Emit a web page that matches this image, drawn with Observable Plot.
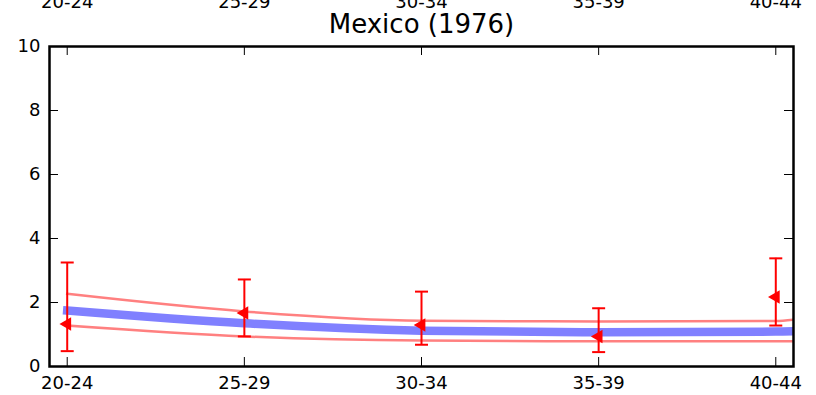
<!DOCTYPE html>
<html>
<head>
<meta charset="utf-8">
<script src="https://cdn.jsdelivr.net/npm/d3@7"></script>
<script src="https://cdn.jsdelivr.net/npm/@observablehq/plot@0.6"></script>
<style>
  html, body { margin: 0; padding: 0; background: #fff; }
</style>
</head>
<body>
<div id="chart"></div>
<script>
// ---- data ----
const title = "Mexico (1976)";
const categories = ["20-24", "25-29", "30-34", "35-39", "40-44"];
const catIndex = [0, 1, 2, 3, 4];
const yTicks = [0, 2, 4, 6, 8, 10];

// fitted curves: one value per age group, plus the value at the right edge of the axes (x = 4.1)
const lineX = [0, 1, 2, 3, 4, 4.1];
const fitMean  = [1.75, 1.35, 1.12, 1.07, 1.09, 1.10];
const fitUpper = [2.27, 1.72, 1.43, 1.41, 1.42, 1.46];
const fitLower = [1.28, 0.94, 0.81, 0.79, 0.79, 0.79];

// observed values with error bars
const observed = [1.33, 1.67, 1.30, 0.94, 2.17];
const obsLow   = [0.48, 0.94, 0.68, 0.45, 1.28];
const obsHigh  = [3.25, 2.72, 2.34, 1.82, 3.38];

// ---- build tables ----
const mk = (vals) => lineX.map((x, i) => ({x, y: vals[i]}));
const meanData = mk(fitMean), upperData = mk(fitUpper), lowerData = mk(fitLower);
const obsData = catIndex.map(i => ({x: i, y: observed[i], lo: obsLow[i], hi: obsHigh[i]}));

const capSymbol = {
  draw(context, size) {
    const w = Math.sqrt(size / Math.PI);
    context.moveTo(-w, 0);
    context.lineTo(w, 0);
  }
};

const W = 816, H = 395;
const mL = 49, mR = 23, mT = 46, mB = 29;
const plotW = W - mL - mR, plotH = H - mT - mB;
const tickLen = 9;
const curve = "monotone-x";
const tickFont = 18;

const chart = Plot.plot({
  width: W,
  height: H,
  marginLeft: mL,
  marginRight: mR,
  marginTop: mT,
  marginBottom: mB,
  style: {fontFamily: "'DejaVu Sans', sans-serif", fontSize: tickFont + "px", background: "white", color: "black"},
  x: {type: "linear", domain: [-0.1, 4.1]},
  y: {type: "linear", domain: [0, 10]},
  marks: [
    // fitted mean (thick blue)
    Plot.line(meanData, {x: "x", y: "y", stroke: "#8080ff", strokeWidth: 8.5, strokeLinecap: "square", curve, clip: true}),
    // bands with white edges
    Plot.line(upperData, {x: "x", y: "y", stroke: "white", strokeWidth: 5.5, strokeLinecap: "square", curve, clip: true}),
    Plot.line(upperData, {x: "x", y: "y", stroke: "#ff8080", strokeWidth: 2.5, strokeLinecap: "square", curve, clip: true}),
    Plot.line(lowerData, {x: "x", y: "y", stroke: "white", strokeWidth: 5.5, strokeLinecap: "square", curve, clip: true}),
    Plot.line(lowerData, {x: "x", y: "y", stroke: "#ff8080", strokeWidth: 2.5, strokeLinecap: "square", curve, clip: true}),
    // error bars
    Plot.ruleX(obsData, {x: "x", y1: "lo", y2: "hi", stroke: "red", strokeWidth: 2}),
    Plot.dot(obsData, {x: "x", y: "hi", symbol: capSymbol, r: 6.5, stroke: "red", strokeWidth: 2, fill: "none"}),
    Plot.dot(obsData, {x: "x", y: "lo", symbol: capSymbol, r: 6.5, stroke: "red", strokeWidth: 2, fill: "none"}),
    // observed markers (left-pointing triangles)
    Plot.dot(obsData, {x: "x", y: "y", symbol: "triangle", rotate: -90, r: 5, fill: "red", stroke: "none"}),
    // inward ticks
    Plot.tickX(catIndex, {x: d => d, insetTop: plotH - tickLen, stroke: "black", strokeWidth: 1}),
    Plot.tickX(catIndex, {x: d => d, insetBottom: plotH - tickLen, stroke: "black", strokeWidth: 1}),
    Plot.tickY(yTicks, {y: d => d, insetRight: plotW - tickLen, stroke: "black", strokeWidth: 1}),
    Plot.tickY(yTicks, {y: d => d, insetLeft: plotW - tickLen, stroke: "black", strokeWidth: 1}),
    // axes (labels only)
    Plot.axisY({anchor: "left", ticks: yTicks, tickSize: 0, tickPadding: 9, label: null, fontSize: tickFont}),
    Plot.axisX({anchor: "bottom", ticks: catIndex, tickFormat: i => categories[i], tickSize: 0, tickPadding: 10, label: null, fontSize: tickFont}),
    Plot.axisX({anchor: "top", ticks: catIndex, tickFormat: i => categories[i], tickSize: 0, tickPadding: 39, label: null, fontSize: tickFont}),
    // frame
    Plot.frame({stroke: "black", strokeWidth: 2.5}),
    // title
    Plot.text([title], {text: d => d, frameAnchor: "top", dy: -14, lineAnchor: "bottom", fontSize: 26})
  ]
});

document.getElementById("chart").appendChild(chart);
</script>
</body>
</html>
